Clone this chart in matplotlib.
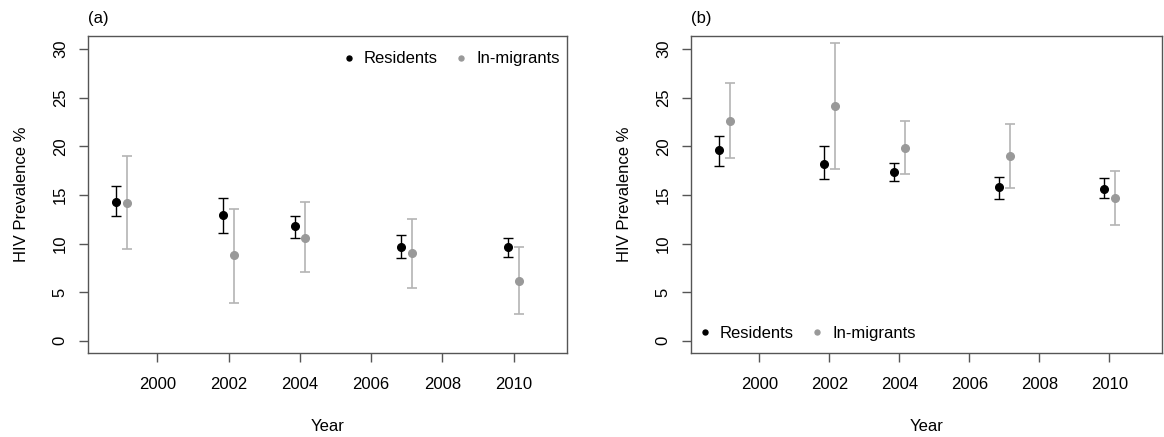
import numpy as np
import matplotlib.pyplot as plt

plt.rcParams['font.family'] = ['Liberation Sans', 'DejaVu Sans']

years = [1999, 2002, 2004, 2007, 2010]

# panel (a)
res_a = [14.3, 12.9, 11.8, 9.7, 9.7]
res_a_lo = [12.8, 11.1, 10.6, 8.5, 8.6]
res_a_hi = [15.9, 14.7, 12.8, 10.9, 10.6]
mig_a = [14.2, 8.8, 10.6, 9.0, 6.2]
mig_a_lo = [9.4, 3.9, 7.1, 5.4, 2.8]
mig_a_hi = [19.0, 13.6, 14.3, 12.5, 9.7]

# panel (b)
res_b = [19.6, 18.2, 17.4, 15.8, 15.6]
res_b_lo = [18.0, 16.6, 16.4, 14.6, 14.7]
res_b_hi = [21.1, 20.0, 18.3, 16.9, 16.7]
mig_b = [22.6, 24.1, 19.8, 19.0, 14.7]
mig_b_lo = [18.8, 17.7, 17.2, 15.7, 11.9]
mig_b_hi = [26.5, 30.6, 22.6, 22.3, 17.5]

fig = plt.figure(figsize=(11.64, 4.37), dpi=100)
ax1 = fig.add_axes([88/1164, 1-353/437, (567-88)/1164, (353-36)/437])
ax2 = fig.add_axes([691/1164, 1-353/437, (1162-691)/1164, (353-36)/437])

FS = 12

def panel(ax, tag, r, rlo, rhi, m, mlo, mhi, legloc, anchor):
    x = np.array(years, dtype=float)
    r, rlo, rhi = np.array(r), np.array(rlo), np.array(rhi)
    m, mlo, mhi = np.array(m), np.array(mlo), np.array(mhi)
    ax.errorbar(x - 0.15, r, yerr=[r - rlo, rhi - r], fmt='none', ecolor='black',
                elinewidth=1, capsize=3.6, capthick=1)
    ax.errorbar(x + 0.15, m, yerr=[m - mlo, mhi - m], fmt='none', ecolor='#b4b4b4',
                elinewidth=1.2, capsize=3.6, capthick=1.2)
    ax.plot(x - 0.15, r, 'o', color='black', ms=5.5, label='Residents')
    ax.plot(x + 0.15, m, 'o', color='#999999', ms=5.5, label='In-migrants')
    ax.set_xlim(1998.05, 2011.5)
    ax.set_ylim(-1.25, 31.35)
    ax.set_xticks([2000, 2002, 2004, 2006, 2008, 2010])
    ax.set_yticks([0, 5, 10, 15, 20, 25, 30])
    ax.tick_params(axis='y', labelrotation=90, length=6.5, width=1, color='#555555',
                   labelsize=FS, pad=8)
    ax.tick_params(axis='x', length=6.5, width=1, color='#555555', labelsize=FS, pad=11)
    for lab in ax.get_yticklabels():
        lab.set_va('center')
    for s in ax.spines.values():
        s.set_color('#555555')
        s.set_linewidth(1)
    ax.set_xlabel('Year', fontsize=FS, labelpad=19)
    ax.set_ylabel('HIV Prevalence %', fontsize=FS, labelpad=17.5)
    ax.set_title(tag, loc='left', fontsize=FS, pad=9, x=0.0)
    ax.legend(loc=legloc, bbox_to_anchor=anchor, frameon=False, ncol=2, fontsize=FS,
              markerscale=0.65, handlelength=0.8, handletextpad=0.5,
              columnspacing=1.0, borderaxespad=0.6)

panel(ax1, '(a)', res_a, res_a_lo, res_a_hi, mig_a, mig_a_lo, mig_a_hi,
      'upper right', (1.02, 1.004))
panel(ax2, '(b)', res_b, res_b_lo, res_b_hi, mig_b, mig_b_lo, mig_b_hi,
      'lower left', (-0.02, -0.014))

fig.savefig('out.png', dpi=100)
